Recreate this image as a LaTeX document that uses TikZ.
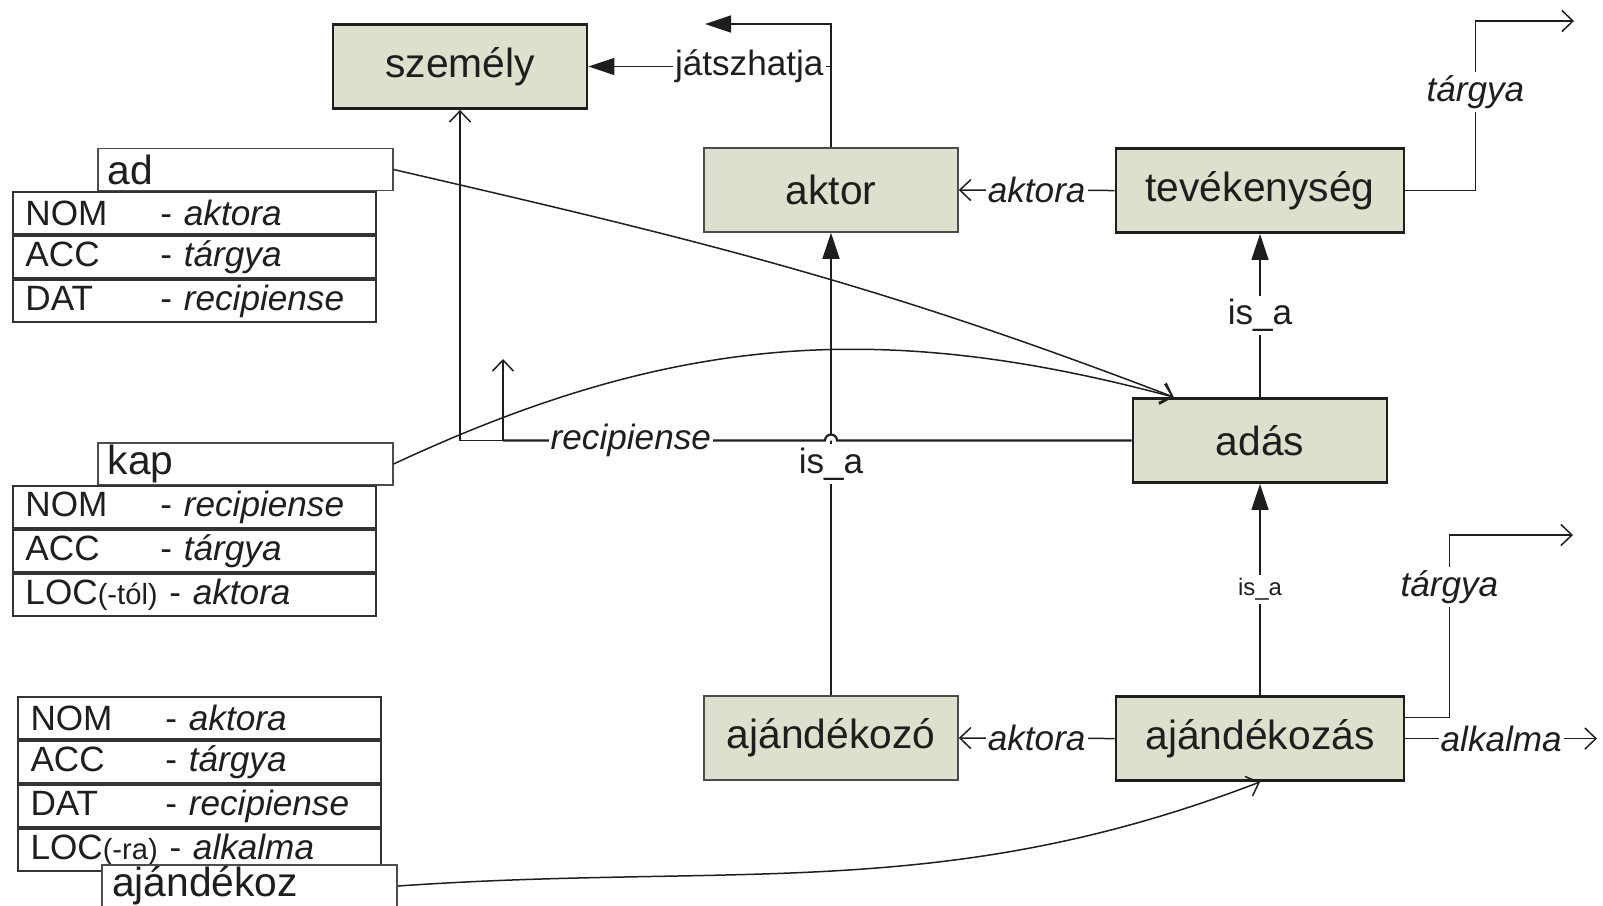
\documentclass[tikz,border=0pt]{standalone}
\usepackage{fontspec}
\setmainfont{Liberation Sans}
\usetikzlibrary{calc, arrows.meta, positioning}
\definecolor{dobozszin}{RGB}{222,224,205}
\definecolor{vonalszin}{RGB}{30,30,30}
\newcommand{\nagybetu}{\fontsize{11.6}{13}\selectfont}
\newcommand{\kisbetu}{\fontsize{10}{12}\selectfont}
\newcommand{\aprobetu}{\fontsize{6.8}{8}\selectfont}
\newcommand{\zarojel}{\fontsize{8.3}{9}\selectfont}
\newcommand{\eset}[2]{\makebox[1.35cm][l]{#1}- \textit{#2}}

\begin{document}
\begin{tikzpicture}[color=vonalszin, line width=0.15mm,
        fogalom/.style={draw=vonalszin, fill=dobozszin, line width=0.28mm, minimum width=2.54cm, minimum height=0.84cm, inner sep=0pt, font=\nagybetu},
        vekony/.style={fogalom, draw=black!70, line width=0.15mm},
        ige/.style={draw=black!70, fill=white, line width=0.15mm, minimum width=2.95cm, minimum height=0.42cm, inner sep=0pt, text width=2.75cm, align=left, font=\nagybetu},
        sor/.style={draw=black!80, fill=white, line width=0.2mm, minimum width=3.63cm, minimum height=0.42cm, inner sep=0pt, text width=3.38cm, align=left, font=\kisbetu},
        cimke/.style={fill=white, inner xsep=0.6pt, inner ysep=1pt, font=\kisbetu\itshape},
        isa/.style={fill=white, inner xsep=0.6pt, inner ysep=1pt, font=\kisbetu},
        tele/.style={-{Triangle[length=2.6mm, width=1.7mm]}},
        nyitott/.style={-{Straight Barb[length=1.1mm, width=2.1mm]}}]
    \useasboundingbox (0,0) rectangle (16.03,-9.05);

    \node[fogalom] (szemely) at (4.60,-0.665) {személy};
    \node[vekony] (aktor) at (8.31,-1.90) {aktor};
    \node[fogalom, minimum width=2.88cm] (tevekenyseg) at (12.60,-1.905) {tevékenység};
    \node[fogalom] (adas) at (12.60,-4.405) {adás};
    \node[vekony] (ajandekozo) at (8.31,-7.38) {ajándékozó};
    \node[fogalom, minimum width=2.88cm] (ajandekozas) at (12.60,-7.385) {ajándékozás};

    \node[ige] (ad) at (2.453,-1.695) {ad};
    \node[sor, anchor=north west] (adnom) at (0.12,-1.91) {\eset{NOM}{aktora}};
    \node[sor, below=0pt of adnom] (adacc) {\eset{ACC}{tárgya}};
    \node[sor, below=0pt of adacc] (addat) {\eset{DAT}{recipiense}};

    \node[ige] (kap) at (2.453,-4.64) {kap};
    \node[sor, anchor=north west] (kapnom) at (0.12,-4.85) {\eset{NOM}{recipiense}};
    \node[sor, below=0pt of kapnom] (kapacc) {\eset{ACC}{tárgya}};
    \node[sor, below=0pt of kapacc] (kaploc) {LOC{\zarojel(-tól)} - \textit{aktora}};

    \node[sor, anchor=north west] (ajnom) at (0.17,-6.96) {\eset{NOM}{aktora}};
    \node[sor, below=0pt of ajnom] (ajacc) {\eset{ACC}{tárgya}};
    \node[sor, below=0pt of ajacc] (ajdat) {\eset{DAT}{recipiense}};
    \node[sor, below=0pt of ajdat] (ajloc) {LOC{\zarojel(-ra)} - \textit{alkalma}};
    \node[ige] (ajandekoz) at (2.495,-8.86) {ajándékoz};

    \coordinate (jatszvege) at (7.05,-0.24);
    \coordinate (targy1) at (15.74,-0.21);
    \coordinate (targy2) at (15.73,-5.35);
    \coordinate (alkalmavege) at (15.97,-7.385);
    \coordinate (csonk) at (5.03,-4.405);
    \coordinate (csonkvege) at (5.03,-3.59);
    \coordinate (adasbe) at ([xshift=4.2mm]adas.north west);

    \draw[tele] (aktor.north) |- (jatszvege);
    \draw[tele] (aktor.north |- szemely.east) -- node[pos=0.337, isa]{játszhatja} (szemely.east);
    \draw[nyitott] (tevekenyseg.west) -- node[cimke]{aktora} (aktor.east);
    \draw[nyitott] (tevekenyseg.east) -- ++(0.70,0) |- node[pos=0.29, cimke]{tárgya} (targy1);
    \draw[tele] (adas.north) -- node[isa]{is\_a} (tevekenyseg.south);
    \draw[tele] (ajandekozas.north) -- node[isa, font=\aprobetu]{is\_a} (adas.south);
    \draw[tele] (ajandekozo.north) -- node[isa]{is\_a} (aktor.south);
    \draw[nyitott] (ajandekozas.west) -- node[cimke]{aktora} (ajandekozo.east);
    \draw[nyitott] (ajandekozas.east) -- node[cimke]{alkalma} (alkalmavege);
    \draw[nyitott] ([yshift=2.1mm]ajandekozas.east) -- ++(0.44,0) |- node[pos=0.357, cimke]{tárgya} (targy2);

    \fill[white] (8.37,-4.405) arc[start angle=0, end angle=180, radius=0.06] -- cycle;
    \draw[line width=0.22mm] (adas.west) -- (8.37,-4.405) arc[start angle=0, end angle=180, radius=0.06] -- node[pos=0.603, cimke]{recipiense} (csonk);
    \draw[nyitott] (csonk) -| (szemely.south);
    \draw[nyitott] (csonk) -- (csonkvege);

    \draw[nyitott] (ad.east) to[out=-13, in=159] (adasbe);
    \draw[nyitott] (kap.east) to[out=25, in=165] (adasbe);
    \draw[nyitott] (ajandekoz.east) to[out=4, in=201] (ajandekozas.south);
\end{tikzpicture}
\end{document}
